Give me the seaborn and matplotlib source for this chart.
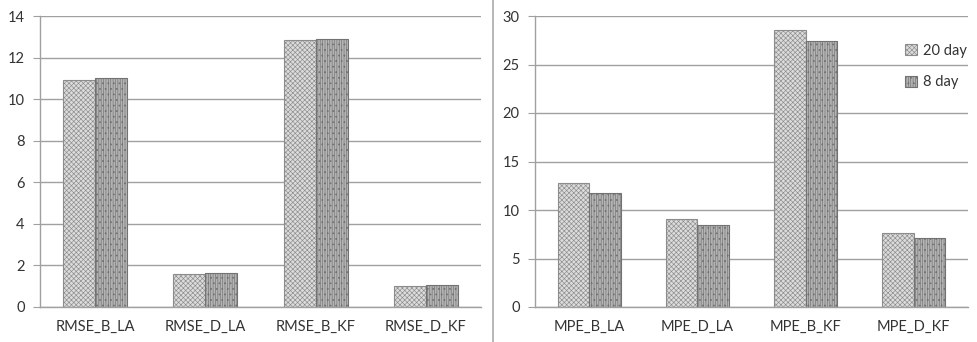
import matplotlib
matplotlib.use("Agg")
import matplotlib.pyplot as plt
from matplotlib.patches import Patch
from matplotlib.lines import Line2D
import seaborn as sns
import pandas as pd

# --- data ---
rmse_labels = ["RMSE_B_LA", "RMSE_D_LA", "RMSE_B_KF", "RMSE_D_KF"]
rmse_20day = [10.9, 1.6, 12.85, 1.0]
rmse_8day = [11.0, 1.65, 12.9, 1.05]

mpe_labels = ["MPE_B_LA", "MPE_D_LA", "MPE_B_KF", "MPE_D_KF"]
mpe_20day = [12.8, 9.1, 28.6, 7.6]
mpe_8day = [11.8, 8.5, 27.4, 7.1]

series_names = ["20 day", "8 day"]

sns.set_style("white")
plt.rcParams["font.family"] = ["Lato", "DejaVu Sans"]
plt.rcParams["hatch.linewidth"] = 0.45

styles = {
    "20 day": dict(face="#dcdcdc", edge="#8c8c8c", hatch="xxxxxxx"),
    "8 day": dict(face="#b4b4b4", edge="#727272", hatch="|||||||..."),
}
text_col = "#333333"
line_col = "#a0a0a0"


def long_frame(labels, a, b):
    return pd.DataFrame({
        "metric": labels * 2,
        "value": a + b,
        "series": [series_names[0]] * len(labels) + [series_names[1]] * len(labels),
    })


def draw_panel(ax, df, ymax, ystep):
    sns.barplot(data=df, x="metric", y="value", hue="series", ax=ax,
                width=0.58, legend=False, saturation=1)
    n = df["metric"].nunique()
    for i, cont in enumerate(ax.containers):
        st = styles[series_names[i]]
        for bar in cont:
            bar.set_facecolor(st["face"])
            bar.set_edgecolor(st["edge"])
            bar.set_hatch(st["hatch"])
            bar.set_linewidth(0.8)
    ax.set_ylim(0, ymax)
    ax.set_yticks(range(0, ymax + 1, ystep))
    ax.set_xlim(-0.5, n - 0.5)
    ax.yaxis.grid(True, color=line_col, linewidth=1)
    ax.set_axisbelow(True)
    ax.set_xlabel("")
    ax.set_ylabel("")
    for s in ["top", "right"]:
        ax.spines[s].set_visible(False)
    for s in ["left", "bottom"]:
        ax.spines[s].set_color(line_col)
        ax.spines[s].set_linewidth(1)
    # category boundary ticks like a spreadsheet chart
    ax.set_xticks([x - 0.5 for x in range(n + 1)], minor=True)
    ax.tick_params(axis="x", which="major", length=0, pad=9,
                   labelsize=10.5, labelcolor=text_col)
    ax.tick_params(axis="x", which="minor", length=5, color=line_col, direction="out")
    ax.tick_params(axis="y", length=5, color=line_col, direction="out", left=True,
                   pad=6, labelsize=10.5, labelcolor=text_col)


fig = plt.figure(figsize=(9.78, 3.42), dpi=100)
W, H = 978, 342
ax1 = fig.add_axes([40 / W, 35 / H, (481 - 40) / W, 291 / H])
ax2 = fig.add_axes([535 / W, 35 / H, (968 - 535) / W, 291 / H])

draw_panel(ax1, long_frame(rmse_labels, rmse_20day, rmse_8day), 14, 2)
draw_panel(ax2, long_frame(mpe_labels, mpe_20day, mpe_8day), 30, 5)

handles = [Patch(facecolor=styles[s]["face"], edgecolor=styles[s]["edge"],
                 hatch=styles[s]["hatch"], linewidth=0.8, label=s)
           for s in series_names]
leg = ax2.legend(handles=handles, loc="upper left", bbox_to_anchor=(0.825, 0.95),
                 frameon=False, fontsize=10.5, handlelength=0.8, handleheight=0.8,
                 handletextpad=0.4, labelspacing=1.2, labelcolor=text_col)

# divider between panels
fig.add_artist(Line2D([493 / W, 493 / W], [0, 1], color="#aaaaaa", linewidth=1.2))

fig.savefig("out.png", dpi=100)
